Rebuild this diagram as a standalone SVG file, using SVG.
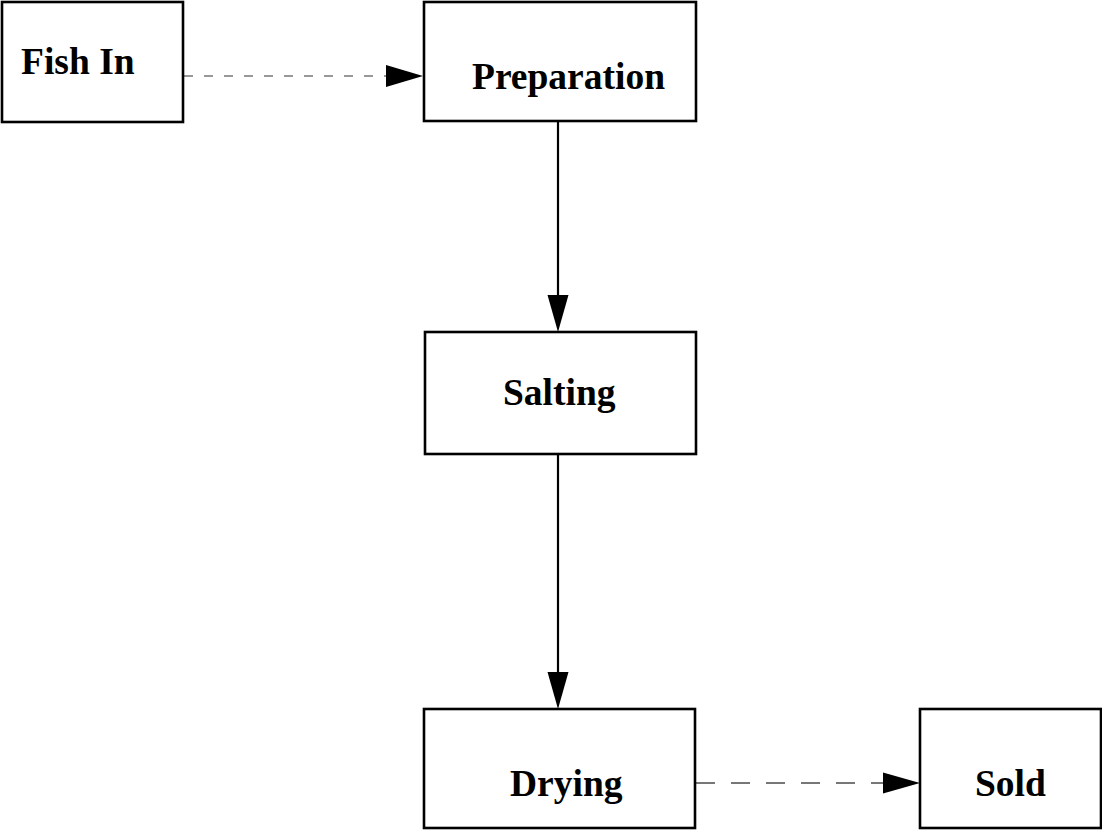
<svg xmlns="http://www.w3.org/2000/svg" width="1102" height="830" viewBox="0 0 1102 830">
<style>
.box{fill:#fff;stroke:#000;stroke-width:2.6}
.lbl{font-family:"Liberation Serif","Times New Roman",serif;font-weight:bold;font-size:37.5px;fill:#000}
.solid{stroke:#000;stroke-width:2.2;fill:none}
.dash1{stroke:#777;stroke-width:1.6;stroke-dasharray:9 11;fill:none}
.dash2{stroke:#777;stroke-width:2;stroke-dasharray:19 16;fill:none}
.head{fill:#000}
</style>
<rect width="1102" height="830" fill="#fff"/>
<g id="connectors">
<line class="dash1" x1="184" y1="76" x2="388" y2="76"/>
<polygon class="head" points="386,65 423,76 386,87"/>
<line class="solid" x1="558" y1="122" x2="558" y2="298"/>
<polygon class="head" points="547.5,295 568.5,295 558,332"/>
<line class="solid" x1="558" y1="454" x2="558" y2="675"/>
<polygon class="head" points="547.5,672 568.5,672 558,709"/>
<line class="dash2" x1="696" y1="783" x2="885" y2="783"/>
<polygon class="head" points="883,772.5 920,783 883,793.5"/>
</g>
<g id="fish-in">
<rect class="box" x="2" y="2" width="181" height="120"/>
<text class="lbl" x="21" y="74">Fish In</text>
</g>
<g id="preparation">
<rect class="box" x="424" y="2" width="272" height="119"/>
<text class="lbl" x="472" y="89">Preparation</text>
</g>
<g id="salting">
<rect class="box" x="425" y="332" width="271" height="122"/>
<text class="lbl" x="503" y="405">Salting</text>
</g>
<g id="drying">
<rect class="box" x="424" y="709" width="271" height="119"/>
<text class="lbl" x="510" y="796">Drying</text>
</g>
<g id="sold">
<rect class="box" x="920" y="709" width="181" height="119"/>
<text class="lbl" x="975" y="796">Sold</text>
</g>
</svg>
